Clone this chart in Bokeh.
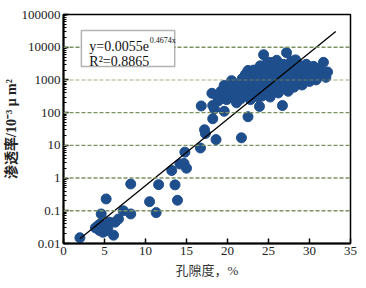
import numpy as np
from bokeh.plotting import figure
from bokeh.models import (FixedTicker, CustomJSTickFormatter, Label, BoxAnnotation,
                          Span, Range1d)
from bokeh.embed import file_html
from bokeh.resources import INLINE

# ---- data ----
porosity = [
    2.0, 3.9, 4.2, 4.5, 4.4, 4.7, 4.8, 5.0, 5.2, 5.1, 5.4, 4.6, 5.2, 5.6, 6.1, 6.3,
    6.7, 7.3, 8.2, 8.2, 10.5, 11.3, 11.6, 13.2, 13.6, 13.9, 14.2, 14.7, 15.0, 14.8,
    16.7, 17.2, 17.3, 18.6, 21.7, 18.2, 22.5,
    16.8, 18.1, 18.2, 18.4, 19.6, 19.6, 20.5, 18.8, 19.2, 19.9, 20.2, 20.6, 20.9,
    21.1, 21.3, 21.5, 21.8, 22.0, 22.1, 22.3, 22.5, 22.6, 22.8, 22.9, 23.1, 23.3,
    23.4, 23.6, 23.8, 23.9, 24.0, 24.1, 24.2, 24.3, 24.4, 24.5, 24.6, 24.8, 24.9,
    25.0, 25.1, 25.2, 25.3, 25.4, 25.5, 25.6, 25.8, 25.9, 26.0, 26.1, 26.2, 26.3,
    26.5, 26.6, 26.7, 26.8, 26.9, 27.0, 27.2, 27.3, 27.4, 27.5, 27.7, 27.8, 28.0,
    28.1, 28.3, 28.4, 28.6, 28.8, 29.0, 29.1, 29.3, 29.5, 29.6, 29.8, 30.0, 30.2,
    30.4, 30.6, 30.8, 31.0, 31.2, 31.4, 31.7, 31.8, 32.2, 32.0,
    21.0, 21.6, 22.2, 22.7, 23.2, 23.5, 23.7, 24.7, 25.7, 26.4, 27.1, 27.6, 28.2,
    28.9, 29.4, 30.1, 30.5, 31.1, 20.0, 19.4, 18.9,
]
permeability = [
    0.015, 0.03, 0.035, 0.04, 0.025, 0.03, 0.022, 0.028, 0.035, 0.024, 0.03, 0.08,
    0.23, 0.045, 0.018, 0.045, 0.056, 0.1, 0.08, 0.66, 0.19, 0.088, 0.63, 1.7, 0.62,
    0.21, 2.7, 2.8, 2.0, 6.2, 8.3, 30, 23, 15, 17, 65, 75,
    160, 390, 165, 130, 110, 680, 950, 300, 450, 250, 400, 300, 550,
    200, 700, 420, 1100, 320, 600, 850, 1950, 450, 250, 1300, 700, 380,
    1000, 550, 1600, 155, 2700, 800, 320, 1200, 5900, 500, 2000, 900, 3500,
    650, 1400, 300, 3400, 1000, 2300, 500, 1700, 800, 4000, 1200, 400, 2600,
    900, 1500, 165, 3000, 600, 2000, 6800, 1100, 450, 2500, 800, 3800, 1400,
    600, 4100, 2000, 1000, 2800, 1300, 700, 2000, 1100, 3000, 1500, 900, 1800,
    1200, 2200, 1000, 1600, 1300, 2000, 3450, 1500, 1750, 1200,
    480, 260, 1500, 700, 2000, 1100, 300, 1300, 750, 1900, 1300, 900, 2600,
    1700, 900, 1400, 2600, 2200, 600, 380, 230,
]

fit_a = 0.0055
fit_b = 0.4674
fit_x = [2.0, 33.2]
fit_y = [fit_a * np.exp(fit_b * x) for x in fit_x]

x_ticks = [0, 5, 10, 15, 20, 25, 30, 35]
y_ticks = [0.01, 0.1, 1, 10, 100, 1000, 10000, 100000]
y_tick_labels = ["0.01", "0.1", "1", "10", "100", "1000", "10000", "100000"]
grid_levels = [0.1, 1, 10, 100, 1000, 10000]

SERIF = "Liberation Serif"
CJK = "Liberation Serif, 'Noto Sans CJK SC'"

p = figure(width=366, height=288, x_range=Range1d(0, 35), y_range=Range1d(0.01, 100000),
           y_axis_type="log", output_backend="svg", toolbar_location=None,
           min_border_left=61, min_border_right=16, min_border_top=14, min_border_bottom=45)
p.background_fill_color = "white"
p.border_fill_color = "white"
p.outline_line_color = "black"
p.outline_line_width = 1.5
p.xgrid.visible = False
p.ygrid.visible = False

for lv in grid_levels:
    p.add_layout(Span(location=lv, dimension="width", line_color="#7d9160",
                      line_width=1.4, line_dash="4 2",
                      line_alpha=0.5 if lv == 1000 else 1.0))

p.scatter(porosity, permeability, size=10, color="#1f4e8c")
p.line(fit_x, fit_y, line_color="black", line_width=1.3)

# axes
p.xaxis.ticker = FixedTicker(ticks=x_ticks, minor_ticks=[])
minor = [m * t for t in y_ticks[:-1] for m in range(2, 10)]
p.yaxis.ticker = FixedTicker(ticks=y_ticks, minor_ticks=minor)
p.yaxis.formatter = CustomJSTickFormatter(args=dict(labels=y_tick_labels),
                                          code="return labels[index]")
for ax in (p.xaxis[0], p.yaxis[0]):
    ax.axis_line_color = "black"
    ax.axis_line_width = 2
    ax.major_tick_in = 5
    ax.major_tick_out = 0
    ax.major_tick_line_width = 1.5
    ax.minor_tick_in = 3
    ax.minor_tick_out = 0
    ax.major_label_text_font = SERIF
    ax.major_label_text_font_size = "13px"
    ax.major_label_text_color = "#222222"
    ax.major_label_standoff = 3

p.xaxis.axis_label = "孔隙度，%"
p.xaxis.axis_label_text_font = CJK
p.xaxis.axis_label_text_font_size = "13px"
p.xaxis.axis_label_text_font_style = "normal"
p.xaxis.axis_label_text_color = "#333333"
p.xaxis.axis_label_standoff = 5

p.yaxis.axis_label = "渗透率/10⁻³ μ m²"
p.yaxis.axis_label_text_font = CJK
p.yaxis.axis_label_text_font_size = "14px"
p.yaxis.axis_label_text_font_style = "bold"
p.yaxis.axis_label_text_color = "#222222"
p.yaxis.axis_label_standoff = 0

# equation box
p.add_layout(BoxAnnotation(left=2.18, right=13.56, bottom=2570, top=32400,
                           fill_color="white", fill_alpha=1.0,
                           line_color="black", line_width=1.5))
p.add_layout(Label(x=3.15, y=10500, text="y=0.0055e", text_font=SERIF,
                   text_font_size="14px", text_baseline="alphabetic", text_color="#111111"))
p.add_layout(Label(x=10.53, y=16500, text="0.4674x", text_font=SERIF,
                   text_font_size="8px", text_baseline="alphabetic", text_color="#111111"))
p.add_layout(Label(x=3.15, y=3600, text="R²=0.8865", text_font=SERIF,
                   text_font_size="14px", text_baseline="alphabetic", text_color="#111111"))

open("out.html", "w").write(file_html(p, INLINE))
